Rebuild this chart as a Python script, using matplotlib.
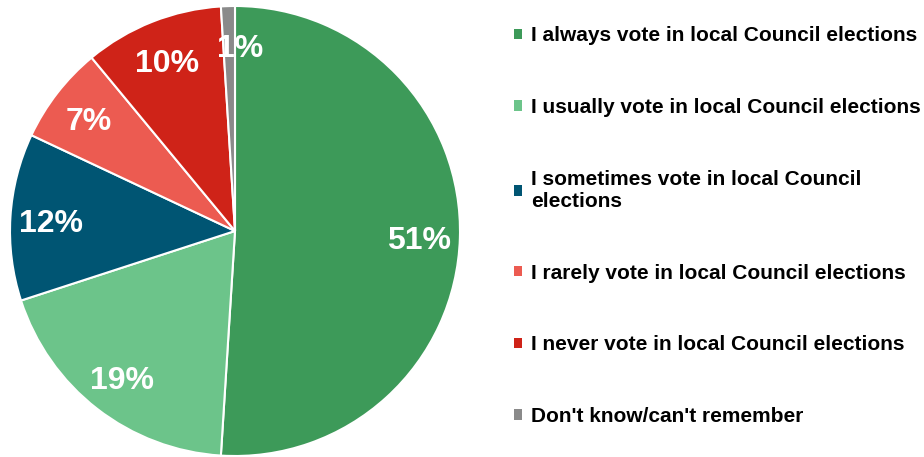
import matplotlib.pyplot as plt

plt.rcParams['font.family'] = ['Liberation Sans', 'DejaVu Sans']

# Voting habits in local Council elections
categories = ["I always vote in local Council elections",
              "I usually vote in local Council elections",
              "I sometimes vote in local Council\nelections",
              "I rarely vote in local Council elections",
              "I never vote in local Council elections",
              "Don't know/can't remember"]
shares = [51, 19, 12, 7, 10, 1]
colors = ["#3d9a59", "#6cc48a", "#005573", "#ec5b51", "#cf2318", "#8a8a8a"]

fig = plt.figure(figsize=(9.24, 4.57), dpi=100)
ax = fig.add_axes([10/924, 1 - 456/457, 450/924, 450/457])

wedges, texts, pcts = ax.pie(shares, colors=colors, startangle=90, counterclock=False,
                             autopct=lambda p: f"{p:.0f}%", pctdistance=0.82,
                             wedgeprops=dict(edgecolor="white", linewidth=1.5),
                             textprops=dict(color="white", fontsize=23, fontweight="bold"))
# labels sit a touch lower; the tiny slice's label also moves right
for t in pcts:
    x, y = t.get_position()
    t.set_position((x, y - 0.02))
x, y = pcts[-1].get_position()
pcts[-1].set_position((x + 0.05, y + 0.01))
ax.set_xlim(-1, 1)
ax.set_ylim(-1, 1)
ax.set_aspect("equal")
ax.axis("off")

leg = fig.legend(wedges, categories, loc="center left", bbox_to_anchor=(514/924, 0.505),
                 frameon=False, borderpad=0, borderaxespad=0,
                 handlelength=0.4, handleheight=0.4, handletextpad=0.42,
                 labelspacing=2.53, prop=dict(size=15, weight="bold"))
for h in leg.legend_handles:
    h.set_edgecolor("none")

fig.savefig("out.png", dpi=100)
